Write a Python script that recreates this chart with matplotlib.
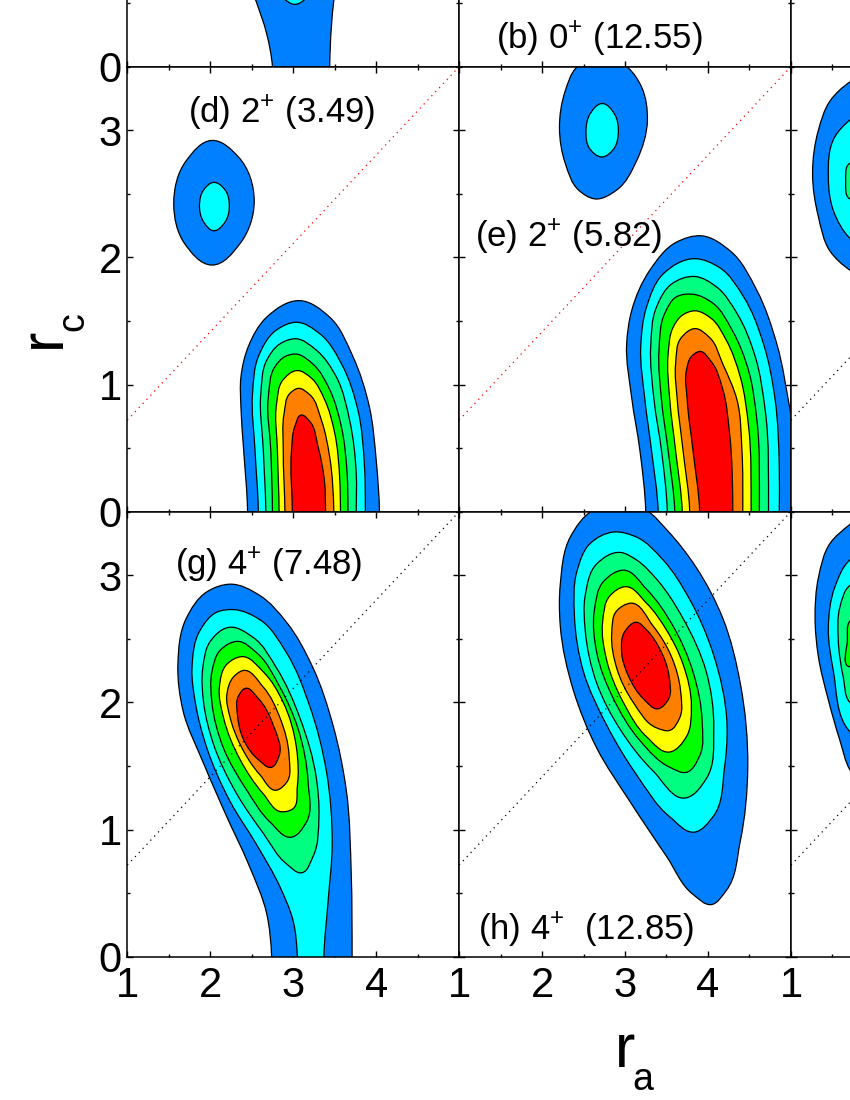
"""Contour panels of r_a / r_c densities, cropped figure as in the paper."""
import matplotlib
matplotlib.use("Agg")
import matplotlib.pyplot as plt
import numpy as np
from matplotlib.patches import PathPatch
from matplotlib.path import Path

plt.rcParams["font.family"] = ["Liberation Sans", "DejaVu Sans"]
plt.rcParams["mathtext.fontset"] = "custom"
plt.rcParams["mathtext.rm"] = "Liberation Sans"
plt.rcParams["mathtext.default"] = "regular"

level_colors = ["#0080FF", "#00FFFF", "#00FF80", "#00FF00", "#FFFF00", "#FF8000", "#FF0000"]

# contour outlines (r_a, r_c), one list per level
a_blue = [(2.75, 0), (2.68, .26), (2.55, .52), (2.48, .65), (2.9, 1.0), (3.52, .65), (3.49, .52), (3.46, .31), (3.44, 0)]
a_cyan = [(3.02, .49), (3.16, .54), (3.3, .8), (3.02, 1.0), (2.75, .8), (2.88, .54)]

d_peak_blue = [(2.02, 2.92), (2.34, 2.79), (2.53, 2.45), (2.36, 2.11), (2.02, 1.94), (1.69, 2.11), (1.56, 2.42), (1.71, 2.76)]
d_peak_cyan = [(2.04, 2.59), (2.18, 2.53), (2.23, 2.41), (2.18, 2.28), (2.04, 2.21), (1.92, 2.28), (1.87, 2.41), (1.92, 2.53)]
d_blue = [(2.45, 0), (2.40, .51), (2.37, .82), (2.37, 1.06), (2.46, 1.30), (2.68, 1.53), (3.08, 1.66), (3.44, 1.53), (3.72, 1.22), (3.92, .82), (4.00, .41), (4.04, 0)]
d_cyan = [(2.58, 0), (2.54, .48), (2.51, .93), (2.58, 1.22), (2.80, 1.43), (3.04, 1.49), (3.32, 1.40), (3.60, 1.14), (3.78, .80), (3.86, .35), (3.87, 0)]
d_spring = [(2.67, 0), (2.64, .48), (2.61, .93), (2.68, 1.19), (2.84, 1.32), (3.03, 1.36), (3.28, 1.27), (3.52, 1.06), (3.68, .72), (3.76, .30), (3.76, 0)]
d_green = [(2.75, 0), (2.73, .48), (2.70, .90), (2.78, 1.14), (2.90, 1.22), (3.03, 1.24), (3.24, 1.16), (3.44, .96), (3.58, .67), (3.65, .30), (3.66, 0)]
d_yellow = [(2.83, 0), (2.81, .48), (2.80, .85), (2.87, 1.03), (3.05, 1.11), (3.22, 1.05), (3.38, .88), (3.50, .62), (3.56, .27), (3.57, 0)]
d_orange = [(2.90, 0), (2.88, .48), (2.89, .77), (2.96, .93), (3.06, .97), (3.20, .92), (3.34, .72), (3.44, .43), (3.49, 0)]
d_red = [(2.99, 0), (2.98, .48), (3.02, .67), (3.10, .76), (3.20, .71), (3.30, .51), (3.38, .22), (3.39, 0)]

e_peak_blue = [(2.41, 3.49), (2.28, 3.31), (2.21, 3.02), (2.28, 2.74), (2.44, 2.53), (2.64, 2.46), (2.90, 2.53), (3.14, 2.76), (3.27, 3.08), (3.20, 3.34), (3.04, 3.49), (2.74, 3.59)]
e_peak_cyan = [(2.72, 3.21), (2.88, 3.12), (2.92, 3.00), (2.86, 2.85), (2.72, 2.79), (2.58, 2.85), (2.53, 3.00), (2.58, 3.13)]
e_blue = [(3.25, 0), (3.18, .48), (3.08, .90), (3.02, 1.32), (3.08, 1.58), (3.30, 1.90), (3.62, 2.12), (3.92, 2.17), (4.27, 2.05), (4.59, 1.74), (4.83, 1.32), (4.99, .80), (5.11, .35), (5.15, 0)]
e_cyan = [(3.40, 0), (3.32, .48), (3.24, .88), (3.19, 1.30), (3.26, 1.61), (3.46, 1.87), (3.84, 1.99), (4.14, 1.92), (4.43, 1.69), (4.67, 1.32), (4.81, .88), (4.86, .35), (4.86, 0)]
e_spring = [(3.51, 0), (3.44, .48), (3.35, .88), (3.31, 1.30), (3.38, 1.61), (3.56, 1.79), (3.84, 1.85), (4.10, 1.77), (4.35, 1.56), (4.57, 1.22), (4.69, .80), (4.73, 0)]
e_green = [(3.60, 0), (3.52, .48), (3.44, .88), (3.41, 1.27), (3.48, 1.56), (3.62, 1.69), (3.82, 1.71), (4.06, 1.64), (4.29, 1.43), (4.49, 1.11), (4.59, .72), (4.62, 0)]
e_yellow = [(3.69, 0), (3.61, .48), (3.54, .88), (3.52, 1.24), (3.58, 1.45), (3.68, 1.54), (3.84, 1.58), (4.04, 1.52), (4.22, 1.35), (4.39, 1.06), (4.49, .67), (4.52, 0)]
e_orange = [(3.78, 0), (3.70, .48), (3.63, .88), (3.61, 1.16), (3.68, 1.37), (3.84, 1.44), (4.02, 1.37), (4.18, 1.16), (4.35, .88), (4.41, .48), (4.42, 0)]
e_red = [(3.90, 0), (3.82, .48), (3.75, .88), (3.74, 1.11), (3.80, 1.22), (3.90, 1.26), (4.04, 1.18), (4.18, .96), (4.26, .62), (4.30, 0)]

f_blue = [(1.71, 3.38), (1.47, 3.23), (1.33, 3.00), (1.26, 2.66), (1.33, 2.32), (1.47, 2.05), (1.71, 1.90), (2.2, 1.78), (3.0, 2.6), (2.2, 3.5)]
f_cyan = [(1.71, 3.08), (1.53, 2.95), (1.45, 2.63), (1.51, 2.37), (1.71, 2.15), (2.2, 2.0), (2.5, 2.6), (2.2, 3.2)]
f_spring = [(1.71, 2.74), (1.66, 2.60), (1.71, 2.46), (1.9, 2.6)]

g_blue = [(2.74, 0), (2.68, .34), (2.46, .73), (2.20, 1.10), (1.92, 1.52), (1.67, 1.94), (1.61, 2.30), (1.71, 2.66), (1.96, 2.87), (2.24, 2.93), (2.60, 2.84), (2.92, 2.63), (3.24, 2.27), (3.48, 1.82), (3.64, 1.31), (3.70, .64), (3.71, 0)]
g_cyan = [(3.05, 0), (3.00, .28), (2.84, .55), (2.56, .88), (2.24, 1.22), (1.96, 1.64), (1.82, 2.00), (1.78, 2.27), (1.88, 2.57), (2.08, 2.71), (2.28, 2.73), (2.60, 2.65), (2.92, 2.39), (3.20, 1.97), (3.40, 1.46), (3.47, .88), (3.42, .43), (3.37, 0)]
g_spring = [(2.22, 2.59), (2.52, 2.51), (2.80, 2.27), (3.08, 1.88), (3.28, 1.40), (3.31, 1.10), (3.24, .79), (3.10, .66), (2.92, .73), (2.64, .97), (2.32, 1.28), (2.04, 1.67), (1.92, 2.00), (1.91, 2.27), (2.00, 2.48)]
g_green = [(2.33, 2.48), (2.56, 2.39), (2.84, 2.12), (3.06, 1.79), (3.18, 1.37), (3.16, 1.06), (2.98, .94), (2.72, 1.06), (2.44, 1.31), (2.16, 1.64), (2.02, 2.00), (2.02, 2.24), (2.12, 2.41)]
g_yellow = [(2.38, 2.36), (2.64, 2.24), (2.88, 2.00), (3.04, 1.64), (3.05, 1.34), (2.99, 1.16), (2.86, 1.14), (2.64, 1.28), (2.36, 1.55), (2.16, 1.88), (2.11, 2.12), (2.20, 2.30)]
g_orange = [(2.39, 2.25), (2.64, 2.12), (2.84, 1.88), (2.95, 1.58), (2.92, 1.37), (2.80, 1.31), (2.60, 1.43), (2.36, 1.67), (2.24, 1.88), (2.20, 2.06), (2.28, 2.20)]
g_red = [(2.42, 2.11), (2.58, 2.03), (2.76, 1.82), (2.83, 1.58), (2.74, 1.49), (2.58, 1.55), (2.40, 1.71), (2.33, 1.89), (2.34, 2.05)]

h_blue = [(2.94, 3.57), (2.61, 3.51), (2.34, 3.30), (2.22, 2.93), (2.22, 2.60), (2.38, 2.09), (2.66, 1.64), (3.06, 1.22), (3.50, .79), (3.82, .49), (4.04, .41), (4.22, .52), (4.39, .91), (4.48, 1.49), (4.39, 2.15), (4.18, 2.66), (3.86, 3.06), (3.50, 3.36), (3.26, 3.51)]
h_cyan = [(2.86, 3.34), (2.58, 3.25), (2.42, 3.03), (2.39, 2.69), (2.50, 2.24), (2.78, 1.82), (3.14, 1.43), (3.54, 1.10), (3.84, .98), (4.06, 1.10), (4.20, 1.49), (4.23, 1.82), (4.06, 2.39), (3.78, 2.81), (3.46, 3.12), (3.14, 3.30)]
h_spring = [(2.94, 3.18), (2.66, 3.09), (2.52, 2.84), (2.52, 2.57), (2.66, 2.15), (2.94, 1.79), (3.34, 1.46), (3.74, 1.25), (3.98, 1.40), (4.07, 1.79), (3.98, 2.24), (3.70, 2.66), (3.38, 2.97), (3.14, 3.12)]
h_green = [(2.98, 3.04), (2.74, 2.95), (2.63, 2.72), (2.66, 2.39), (2.86, 2.03), (3.18, 1.70), (3.54, 1.49), (3.74, 1.45), (3.90, 1.58), (3.93, 1.85), (3.82, 2.24), (3.58, 2.60), (3.26, 2.89)]
h_yellow = [(3.00, 2.91), (2.82, 2.84), (2.73, 2.63), (2.78, 2.33), (2.98, 2.00), (3.26, 1.73), (3.54, 1.61), (3.74, 1.73), (3.80, 1.97), (3.70, 2.30), (3.50, 2.57), (3.26, 2.78)]
h_orange = [(3.06, 2.78), (2.90, 2.72), (2.84, 2.54), (2.90, 2.27), (3.10, 2.00), (3.38, 1.80), (3.54, 1.78), (3.66, 1.88), (3.67, 2.09), (3.56, 2.36), (3.34, 2.60)]
h_red = [(3.14, 2.63), (3.00, 2.56), (2.96, 2.39), (3.04, 2.21), (3.22, 2.03), (3.40, 1.95), (3.52, 2.02), (3.53, 2.21), (3.42, 2.42), (3.26, 2.57)]

i_blue = [(1.71, 3.40), (1.47, 3.25), (1.33, 2.98), (1.29, 2.67), (1.33, 2.36), (1.45, 2.02), (1.59, 1.70), (1.71, 1.47), (2.2, 1.2), (3.0, 2.5), (2.2, 3.6)]
i_cyan = [(1.71, 3.12), (1.53, 2.91), (1.45, 2.59), (1.51, 2.25), (1.71, 1.77), (2.2, 1.6), (2.5, 2.5), (2.2, 3.2)]
i_spring = [(1.71, 2.92), (1.59, 2.75), (1.57, 2.49), (1.63, 2.20), (1.71, 2.00), (2.2, 2.0), (2.2, 2.8)]
i_green = [(1.71, 2.64), (1.68, 2.49), (1.71, 2.28), (1.9, 2.4)]

diagonal_r = [1, 5]
diagonal_c = [0.72, 3.5]
r_ticks = [1, 2, 3, 4]
c_ticks = [0, 1, 2, 3]

# row, col, [(level index, outline)], label, label position, diagonal colour
panels = [
    (0, 0, [(0, a_blue), (1, a_cyan)], None, None, "k"),
    (0, 1, [], r"(b) 0$^{+}$ (12.55)", (1.45, 0.14), "k"),
    (0, 2, [], None, None, "k"),
    (1, 0, [(0, d_peak_blue), (1, d_peak_cyan), (0, d_blue), (1, d_cyan), (2, d_spring), (3, d_green),
            (4, d_yellow), (5, d_orange), (6, d_red)], r"(d) 2$^{+}$ (3.49)", (1.73, 3.06), "r"),
    (1, 1, [(0, e_peak_blue), (1, e_peak_cyan), (0, e_blue), (1, e_cyan), (2, e_spring), (3, e_green),
            (4, e_yellow), (5, e_orange), (6, e_red)], r"(e) 2$^{+}$ (5.82)", (1.19, 2.08), "r"),
    (1, 2, [(0, f_blue), (1, f_cyan), (2, f_spring)], None, None, "k"),
    (2, 0, [(0, g_blue), (1, g_cyan), (2, g_spring), (3, g_green), (4, g_yellow), (5, g_orange), (6, g_red)],
     r"(g) 4$^{+}$ (7.48)", (1.58, 3.00), "k"),
    (2, 1, [(0, h_blue), (1, h_cyan), (2, h_spring), (3, h_green), (4, h_yellow), (5, h_orange), (6, h_red)],
     r"(h) 4$^{+}$  (12.85)", (1.23, 0.13), "k"),
    (2, 2, [(0, i_blue), (1, i_cyan), (2, i_spring), (3, i_green)], None, None, "k"),
]


def smooth_patch(points, color):
    pts = list(points)
    if pts[0][1] == 0 and pts[-1][1] == 0:  # runs through the axis, close it below
        pts += [(pts[-1][0], -0.2), (pts[0][0], -0.2)]
    P = np.array(pts, dtype=float)
    n = len(P)
    # tangents worked out in screen proportions so the curve has no kinks
    aspect = np.array([83.0, 127.2])
    S = P * aspect
    tangents = []
    for i in range(n):
        a = S[i] - S[i - 1]
        b = S[(i + 1) % n] - S[i]
        da, db = np.hypot(*a), np.hypot(*b)
        t = a / da * db + b / db * da
        tangents.append(t / np.hypot(*t))
    verts = [P[0]]
    codes = [Path.MOVETO]
    for i in range(n):
        j = (i + 1) % n
        chord = np.hypot(*(S[j] - S[i]))
        verts += [(S[i] + tangents[i] * chord / 3) / aspect, (S[j] - tangents[j] * chord / 3) / aspect, P[j]]
        codes += [Path.CURVE4] * 3
    return PathPatch(Path(verts, codes), facecolor=color, edgecolor="k", linewidth=0.9, zorder=2)


W, H = 850, 1100
col_left = [127.3, 459.1, 791]
row_bottom = [66.7, 511.7, 956.7]
ax_w, ax_h = 331.8, 445

fig = plt.figure(figsize=(W / 100, H / 100), dpi=100)
for row, col, outlines, label, pos, diag in panels:
    ax = fig.add_axes([col_left[col] / W, 1 - row_bottom[row] / H, ax_w / W, ax_h / H])
    for level, outline in outlines:
        ax.add_patch(smooth_patch(outline, level_colors[level]))
    ax.plot(diagonal_r, diagonal_c, color=diag, linewidth=0.9, linestyle=(0, (1, 3.5)), zorder=3)
    ax.set_xlim(1, 5)
    ax.set_ylim(0, 3.5)
    ax.set_xticks(r_ticks + [5])
    ax.set_yticks(c_ticks)
    ax.set_xticks([1.5, 2.5, 3.5, 4.5], minor=True)
    ax.set_yticks([0.5, 1.5, 2.5, 3.5], minor=True)
    ax.tick_params(which="both", direction="in", top=True, right=True, width=1.0, zorder=5)
    ax.tick_params(which="major", length=4.5)
    ax.tick_params(which="minor", length=2.5)
    ax.tick_params(axis="x", labelsize=30, pad=7, labelbottom=row == 2)
    ax.tick_params(axis="y", labelsize=30, pad=4, labelleft=col == 0)
    # labels that would fall outside the cropped figure stay blank
    ax.set_xticklabels([str(t) if col < 2 or t == 1 else "" for t in r_ticks] + [""])
    ax.set_yticklabels([str(t) if row > 0 or t == 0 else "" for t in c_ticks])
    for sp in ax.spines.values():
        sp.set_linewidth(1.1)
        sp.set_zorder(6)
    if label:
        ax.text(pos[0], pos[1], label, fontsize=25, va="baseline", ha="left", zorder=4)

fig.text(60 / W, 1 - 348 / H, "r", fontsize=44, rotation=90, rotation_mode="anchor", ha="left", va="baseline")
fig.text(83 / W, 1 - 331 / H, "c", fontsize=27, rotation=90, rotation_mode="anchor", ha="left", va="baseline")
fig.text(615 / W, 1 - 1067 / H, "r", fontsize=44, ha="left", va="baseline")
fig.text(632 / W, 1 - 1090 / H, "a", fontsize=27, ha="left", va="baseline")
fig.savefig("out.png", dpi=100)
